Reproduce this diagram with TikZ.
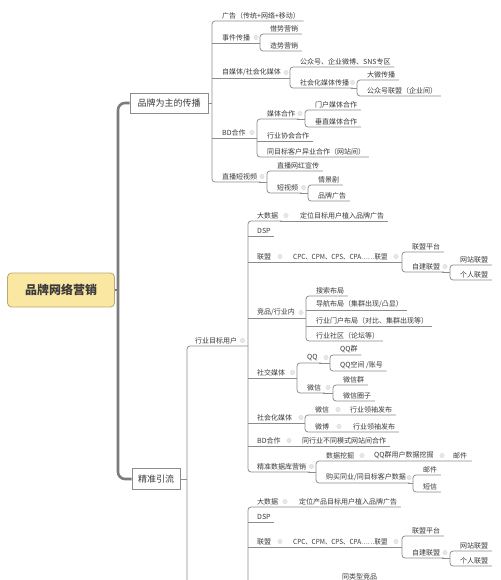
\documentclass[tikz,border=0pt]{standalone}
\usepackage{fontspec}
\setmainfont{Noto Sans CJK SC}
\definecolor{txtc}{HTML}{3A3A3A}
\definecolor{linec}{HTML}{8C8C8C}
\definecolor{thickc}{HTML}{7C7C7C}
\definecolor{rootfill}{HTML}{FAE7A2}
\definecolor{rootdraw}{HTML}{B9A878}
\definecolor{dotc}{HTML}{E6E6EF}
\definecolor{dotd}{HTML}{D6D6E2}
\newcommand\mmgroup[3]{\draw[ln, rounded corners=3pt] ([xshift=2pt]#2.south east) -- (#2.south west -| #1) -- (#3.south west -| #1) -- ([xshift=2pt]#3.south east);}
\newcommand\mmmid[2]{\draw[ln] (#2.south west -| #1) -- ([xshift=2pt]#2.south east);}
\newcommand\mmdot[2]{\fill[dotc, draw=dotd, line width=0.3pt] (#1,#2-5.5) circle (2.2);}
\newcommand\cpctext{\scalebox{0.91}[1]{CPC、CPM、CPS、CPA……联盟}}
\begin{document}
\begin{tikzpicture}[x=1pt,y=-1pt]
\tikzset{
  txt/.style={font=\fontsize{7}{8}\selectfont, text=txtc, inner xsep=1.5pt, inner ysep=2pt, anchor=south west},
  ln/.style={draw=linec, line width=0.75pt},
  thickln/.style={draw=thickc, line width=2.6pt},
  rootbox/.style={draw=rootdraw, fill=rootfill, line width=0.8pt, rounded corners=4pt, minimum width=107pt, minimum height=34pt, inner sep=0pt, font=\bfseries\fontsize{12}{14}\selectfont, text=txtc},
  mainbox/.style={draw=linec, fill=white, line width=0.8pt, minimum height=20pt, inner sep=0pt, font=\fontsize{9}{11}\selectfont, text=txtc},
}
\fill[white] (0,0) rectangle (500,580);
\useasboundingbox (0,0) rectangle (500,580);
\clip (0,0) rectangle (500,580);

% ---------- root and main branches ----------
\node[rootbox] (root) at (61,290) {品牌网络营销};
\node[mainbox, minimum width=78pt] (m1) at (169,103) {品牌为主的传播};
\node[mainbox, minimum width=48pt, minimum height=21pt] (m2) at (156,479) {精准引流};
\coordinate (rj) at (118,290);
\draw[thickln, rounded corners=7pt] (m1.west) -| (rj) |- (m2.west);
\draw[thickln] (root.east) -- (rj);

% ---------- group A : 品牌为主的传播 ----------
\coordinate (jA) at (212,103);
\draw[ln] (m1.east) -- (jA);
\node[txt] (a1) at (220.5,21) {广告（传统+网络+移动）};
\node[txt] (a2) at (220.5,43) {事件传播};
\node[txt] (a3) at (220.5,78) {自媒体/社会化媒体};
\node[txt] (a4) at (220.5,138) {BD合作};
\node[txt] (a5) at (220.5,182) {直播短视频};
\mmgroup{jA}{a1}{a5}
\mmmid{jA}{a2}\mmmid{jA}{a3}\mmmid{jA}{a4}

\coordinate (jA2) at (260,43);
\draw[ln] (a2.south east) -- (jA2);
\node[txt] (a21) at (268.5,34) {借势营销};
\node[txt] (a22) at (268.5,51) {造势营销};
\mmgroup{jA2}{a21}{a22}

\coordinate (jA3) at (290,78);
\draw[ln] (a3.south east) -- (jA3);
\node[txt] (a31) at (298.5,67) {公众号、企业微博、SNS专区};
\node[txt] (a32) at (298.5,88) {社会化媒体传播};
\mmgroup{jA3}{a31}{a32}
\coordinate (jA32) at (357,88);
\draw[ln] (a32.south east) -- (jA32);
\node[txt] (a321) at (365.5,80) {大微传播};
\node[txt] (a322) at (365.5,96) {公众号联盟（企业间）};
\mmgroup{jA32}{a321}{a322}

\coordinate (jA4) at (257,138);
\draw[ln] (a4.south east) -- (jA4);
\node[txt] (a41) at (265.5,119) {媒体合作};
\node[txt] (a42) at (265.5,141) {行业协会合作};
\node[txt] (a43) at (265.5,157) {同目标客户异业合作（网站间）};
\mmgroup{jA4}{a41}{a43}
\mmmid{jA4}{a42}
\coordinate (jA41) at (305,119);
\draw[ln] (a41.south east) -- (jA41);
\node[txt] (a411) at (313.5,110) {门户媒体合作};
\node[txt] (a412) at (313.5,127) {垂直媒体合作};
\mmgroup{jA41}{a411}{a412}

\coordinate (jA5) at (267,182);
\draw[ln] (a5.south east) -- (jA5);
\node[txt] (a51) at (275.5,171) {直播网红宣传};
\node[txt] (a52) at (275.5,193) {短视频};
\mmgroup{jA5}{a51}{a52}
\coordinate (jA52) at (308,193);
\draw[ln] (a52.south east) -- (jA52);
\node[txt] (a521) at (316.5,185) {情景剧};
\node[txt] (a522) at (316.5,201) {品牌广告};
\mmgroup{jA52}{a521}{a522}

% ---------- group B : 精准引流 ----------
\coordinate (jB) at (187,479);
\coordinate (jBend) at (187,640);
\draw[ln] (m2.east) -- (jB);
\node[txt] (b1) at (193.5,346) {行业目标用户};
\coordinate (jC) at (248,346);
\draw[ln, rounded corners=3pt] (jC) -- (b1.south west -| jB) -- (jBend);

% ---------- group C : 行业目标用户 ----------
\node[txt] (c1) at (255.5,221) {大数据};
\node[txt] (c1x) at (298.5,221) {定位目标用户植入品牌广告};
\node[txt] (c2) at (255.5,236) {DSP};
\node[txt] (c3) at (255.5,262) {联盟};
\node[txt] (c3x) at (291.5,262) {\cpctext};
\node[txt] (c4) at (255.5,318) {竞品/行业内};
\node[txt] (c5) at (255.5,378) {社交媒体};
\node[txt] (c6) at (255.5,423) {社会化媒体};
\node[txt] (c7) at (255.5,446) {BD合作};
\node[txt] (c7x) at (300.5,446) {同行业不同模式网站间合作};
\node[txt] (c8) at (255.5,472) {精准数据库营销};
\mmgroup{jC}{c1}{c8}
\mmmid{jC}{c2}\mmmid{jC}{c3}\mmmid{jC}{c4}\mmmid{jC}{c5}\mmmid{jC}{c6}\mmmid{jC}{c7}
\draw[ln] (c1.south east) -- ([xshift=2pt]c1x.south east);
\draw[ln] (c3.south east) -- (c3x.south east);
\draw[ln] (c7.south east) -- ([xshift=2pt]c7x.south east);

\coordinate (jC3) at (402,262);
\draw[ln] (c3x.south east) -- (jC3);
\node[txt] (c31) at (410.5,252) {联盟平台};
\node[txt] (c32) at (410.5,272) {自建联盟};
\mmgroup{jC3}{c31}{c32}
\coordinate (jC32) at (450,272);
\draw[ln] (c32.south east) -- (jC32);
\node[txt] (c321) at (458.5,265) {网站联盟};
\node[txt] (c322) at (458.5,280) {个人联盟};
\mmgroup{jC32}{c321}{c322}

\coordinate (jC4) at (306,318);
\draw[ln] (c4.south east) -- (jC4);
\node[txt] (c41) at (314.5,296) {搜索布局};
\node[txt] (c42) at (314.5,310) {导航布局（集群出现/凸显）};
\node[txt] (c43) at (314.5,326) {行业门户布局（对比、集群出现等）};
\node[txt] (c44) at (314.5,341) {行业社区（论坛等）};
\mmgroup{jC4}{c41}{c44}
\mmmid{jC4}{c42}\mmmid{jC4}{c43}

\coordinate (jC5) at (297,378);
\draw[ln] (c5.south east) -- (jC5);
\node[txt] (c51) at (305.5,363) {QQ};
\node[txt] (c52) at (305.5,393) {微信};
\mmgroup{jC5}{c51}{c52}
\coordinate (jC51) at (330,363);
\draw[ln] (c51.south east) -- (jC51);
\node[txt] (c511) at (338.5,355) {QQ群};
\node[txt] (c512) at (338.5,371) {QQ空间 /账号};
\mmgroup{jC51}{c511}{c512}
\coordinate (jC52) at (333,393);
\draw[ln] (c52.south east) -- (jC52);
\node[txt] (c521) at (341.5,385) {微信群};
\node[txt] (c522) at (341.5,401) {微信圈子};
\mmgroup{jC52}{c521}{c522}

\coordinate (jC6) at (305,423);
\draw[ln] (c6.south east) -- (jC6);
\node[txt] (c61) at (313.5,415) {微信};
\node[txt] (c61x) at (348.5,415) {行业领袖发布};
\node[txt] (c62) at (313.5,432) {微博};
\node[txt] (c62x) at (351.5,432) {行业领袖发布};
\draw[ln, rounded corners=3pt] ([xshift=2pt]c61x.south east) -- (c61.south west -| jC6) -- (c62.south west -| jC6) -- ([xshift=2pt]c62x.south east);

\coordinate (jC8) at (316,472);
\draw[ln] (c8.south east) -- (jC8);
\node[txt] (c81) at (324.5,461) {数据挖掘};
\node[txt] (c81x) at (372.5,461) {QQ群用户数据挖掘};
\node[txt] (c81y) at (451.5,461) {邮件};
\node[txt] (c82) at (324.5,483) {购买同业/同目标客户数据};
\draw[ln, rounded corners=3pt] ([xshift=3pt]c81y.south east) -- (c81.south west -| jC8) -- (c82.south west -| jC8) -- ([xshift=2pt]c82.south east);
\coordinate (jC82) at (413,483);
\draw[ln] (c82.south east) -- (jC82);
\node[txt] (c821) at (421.5,475) {邮件};
\node[txt] (c822) at (421.5,492) {短信};
\mmgroup{jC82}{c821}{c822}

% ---------- group D : lower branch ----------
\coordinate (jD) at (248,640);
\node[txt] (d1) at (255.5,507) {大数据};
\node[txt] (d1x) at (297.5,507) {定位产品目标用户植入品牌广告};
\node[txt] (d2) at (255.5,522) {DSP};
\node[txt] (d3) at (255.5,547) {联盟};
\node[txt] (d3x) at (291.5,547) {\cpctext};
\draw[ln, rounded corners=3pt] ([xshift=2pt]d1x.south east) -- (d1.south west -| jD) -- (jD);
\mmmid{jD}{d2}\mmmid{jD}{d3}
\draw[ln] (d3.south east) -- (d3x.south east);
\coordinate (jD3) at (402,547);
\draw[ln] (d3x.south east) -- (jD3);
\node[txt] (d31) at (410.5,536) {联盟平台};
\node[txt] (d32) at (410.5,558) {自建联盟};
\mmgroup{jD3}{d31}{d32}
\coordinate (jD32) at (450,558);
\draw[ln] (d32.south east) -- (jD32);
\node[txt] (d321) at (458.5,551) {网站联盟};
\node[txt] (d322) at (458.5,566) {个人联盟};
\mmgroup{jD32}{d321}{d322}
\node[txt] (d4) at (340.5,582) {同类型竞品};

% ---------- collapse indicators ----------
\mmdot{256}{43}\mmdot{286}{78}\mmdot{352.5}{88}\mmdot{252}{138}\mmdot{300}{119}
\mmdot{262}{182}\mmdot{303.5}{193}\mmdot{242.5}{346}
\mmdot{286}{221}\mmdot{280}{262}\mmdot{396}{262}\mmdot{445}{272}\mmdot{301}{318}
\mmdot{292.5}{378}\mmdot{326}{363}\mmdot{328}{393}\mmdot{301}{423}\mmdot{338}{415}
\mmdot{339}{432}\mmdot{289}{446}\mmdot{311.5}{472}\mmdot{362}{461}\mmdot{442}{461}
\mmdot{409}{483}\mmdot{285}{507}\mmdot{280}{547}\mmdot{396}{547}\mmdot{445}{558}
\end{tikzpicture}
\end{document}
